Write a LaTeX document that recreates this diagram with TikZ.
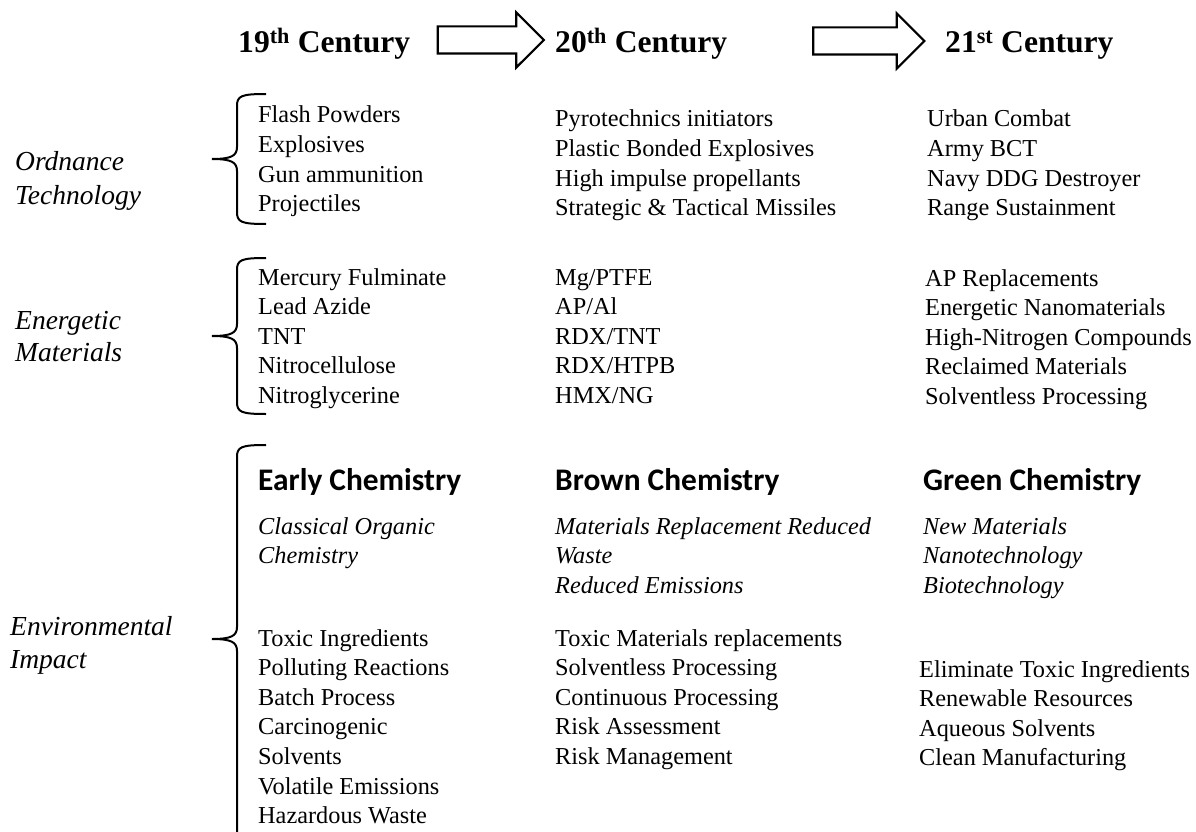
\documentclass[tikz,border=0pt]{standalone}
\usepackage{fontspec}
\setmainfont{Liberation Serif}
\newfontfamily\calibrifont{Carlito}
\usetikzlibrary{positioning,shapes.arrows}

\tikzset{
  item/.style={anchor=base west, inner sep=0pt, font=\fontsize{24.3}{29.5}\selectfont},
  emph/.style={item, font=\fontsize{24.3}{29.5}\selectfont\itshape},
  side/.style={anchor=base west, inner sep=0pt, font=\fontsize{27.5}{33}\selectfont\itshape},
  century/.style={anchor=base west, inner sep=0pt, font=\fontsize{31.6}{36}\selectfont\bfseries},
  chem/.style={anchor=base west, inner sep=0pt, font=\fontsize{31.4}{36}\selectfont\calibrifont\bfseries},
  blockarrow/.style={shape=single arrow, draw, line width=2.2pt, inner xsep=0pt,
    inner ysep=12.5pt, single arrow head extend=14pt},
  brace/.style={line width=2pt}
}

\begin{document}
\begin{tikzpicture}[x=1pt, y=-1pt]
\useasboundingbox (0,0) rectangle (1196,832);
\def\dy{29.6}
\def\ca{258}
\def\cb{555}

% headings
\node[century] (h19) at (238,53) {19\textsuperscript{th} Century};
\node[century] (h20) at (555,53) {20\textsuperscript{th} Century};
\node[century] (h21) at (945,53) {21\textsuperscript{st} Century};
\node[blockarrow, minimum height=106pt] (arrA) at (484,40) {};
\node[blockarrow, minimum height=111pt] (arrB) at (862,41) {};

% row labels
\node[side] (ordA) at (15,170) {Ordnance};
\node[side] (ordB) at (15,204) {Technology};
\node[side] (eneA) at (15,329) {Energetic};
\node[side] (eneB) at (15,361) {Materials};
\node[side] (envA) at (10,635) {Environmental};
\node[side] (envB) at (10,668) {Impact};

% braces
\def\bx{237}
\def\bt{212}
\def\br{266}
\draw[brace] (\br,94) .. controls (\bx+4,94) and (\bx,96) .. (\bx,106) -- (\bx,147)
  .. controls (\bx,156) and (\bx-6,159) .. (\bt,159)
  .. controls (\bx-6,159) and (\bx,162) .. (\bx,171) -- (\bx,212)
  .. controls (\bx,222) and (\bx+4,224) .. (\br,224);
\draw[brace] (\br,258) .. controls (\bx+4,258) and (\bx,260) .. (\bx,270) -- (\bx,324)
  .. controls (\bx,333) and (\bx-6,336) .. (\bt,336)
  .. controls (\bx-6,336) and (\bx,339) .. (\bx,348) -- (\bx,402)
  .. controls (\bx,412) and (\bx+4,414) .. (\br,414);
\draw[brace] (\br,445) .. controls (\bx+4,445) and (\bx,447) .. (\bx,457) -- (\bx,627)
  .. controls (\bx,636) and (\bx-6,639) .. (\bt,639)
  .. controls (\bx-6,639) and (\bx,642) .. (\bx,651) -- (\bx,832);

% ordnance technology
\foreach \txt [count=\i] in {Flash Powders, Explosives, Gun ammunition, Projectiles}
  \node[item] (ot1-\i) at (\ca, {123+\dy*(\i-1)}) {\txt};
\foreach \txt [count=\i] in {Pyrotechnics initiators, Plastic Bonded Explosives,
    High impulse propellants, Strategic \& Tactical Missiles}
  \node[item] (ot2-\i) at (\cb, {127+\dy*(\i-1)}) {\txt};
\foreach \txt [count=\i] in {Urban Combat, Army BCT, Navy DDG Destroyer, Range Sustainment}
  \node[item] (ot3-\i) at (927, {127+\dy*(\i-1)}) {\txt};

% energetic materials
\foreach \txt [count=\i] in {Mercury Fulminate, Lead Azide, TNT, Nitrocellulose, Nitroglycerine}
  \node[item] (em1-\i) at (\ca, {285+\dy*(\i-1)}) {\txt};
\foreach \txt [count=\i] in {Mg/PTFE, AP/Al, RDX/TNT, RDX/HTPB, HMX/NG}
  \node[item] (em2-\i) at (\cb, {285+\dy*(\i-1)}) {\txt};
\foreach \txt [count=\i] in {AP Replacements, Energetic Nanomaterials, High-Nitrogen Compounds,
    Reclaimed Materials, Solventless Processing}
  \node[item] (em3-\i) at (925, {286+\dy*(\i-1)}) {\txt};

% environmental impact
\node[chem] (early) at (\ca,490) {Early Chemistry};
\node[chem] (brown) at (\cb,490) {Brown Chemistry};
\node[chem] (green) at (923,490) {Green Chemistry};
\foreach \txt [count=\i] in {Classical Organic, Chemistry}
  \node[emph] (ei1-\i) at (\ca, {534+\dy*(\i-1)}) {\txt};
\foreach \txt [count=\i] in {Materials Replacement Reduced, Waste, Reduced Emissions}
  \node[emph] (ei2-\i) at (\cb, {534+\dy*(\i-1)}) {\txt};
\foreach \txt [count=\i] in {New Materials, Nanotechnology, Biotechnology}
  \node[emph] (ei3-\i) at (923, {534+\dy*(\i-1)}) {\txt};
\foreach \txt [count=\i] in {Toxic Ingredients, Polluting Reactions, Batch Process, Carcinogenic,
    Solvents, Volatile Emissions, Hazardous Waste}
  \node[item] (ep1-\i) at (\ca, {646+\dy*(\i-1)}) {\txt};
\foreach \txt [count=\i] in {Toxic Materials replacements, Solventless Processing,
    Continuous Processing, Risk Assessment, Risk Management}
  \node[item] (ep2-\i) at (\cb, {646+\dy*(\i-1)}) {\txt};
\foreach \txt [count=\i] in {Eliminate Toxic Ingredients, Renewable Resources,
    Aqueous Solvents, Clean Manufacturing}
  \node[item] (ep3-\i) at (919, {677+\dy*(\i-1)}) {\txt};

\end{tikzpicture}
\end{document}
